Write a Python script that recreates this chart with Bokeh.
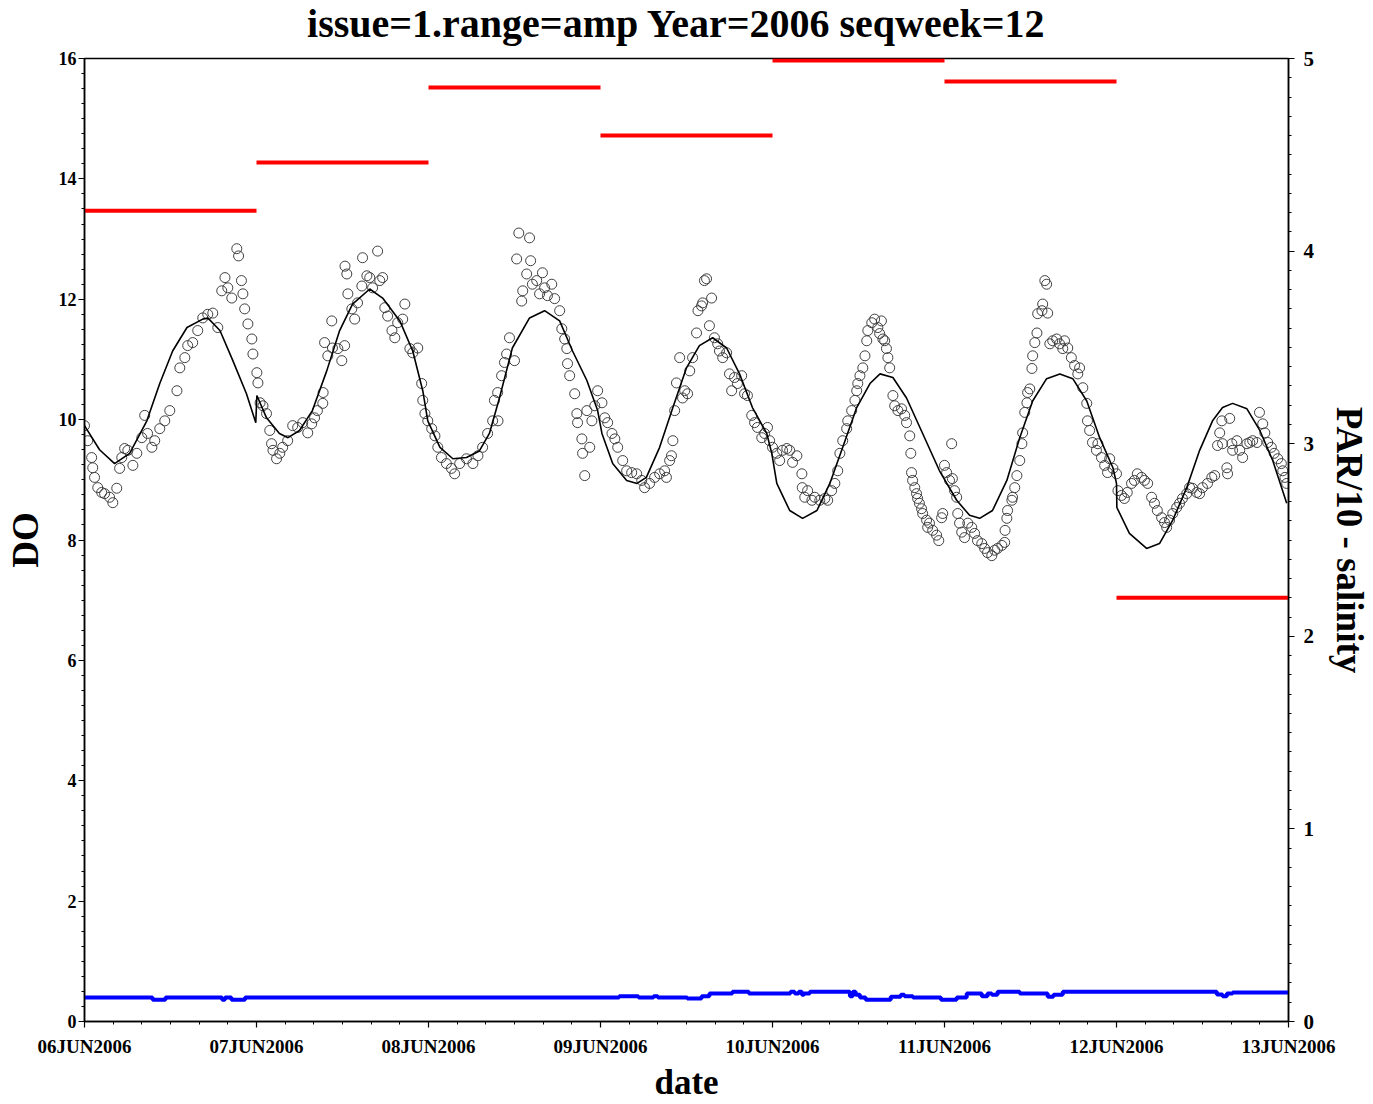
from bokeh.plotting import figure
from bokeh.models import Range1d, LinearAxis, FixedTicker, Title
from bokeh.embed import file_html
from bokeh.resources import INLINE
import numpy as np

FONT = "Liberation Serif"

title_text = "issue=1.range=amp  Year=2006  seqweek=12"

date_labels = ["06JUN2006", "07JUN2006", "08JUN2006", "09JUN2006",
               "10JUN2006", "11JUN2006", "12JUN2006", "13JUN2006"]

# DO observations: hours since 06JUN2006 00:00, DO value
do_hours = [
    0.0, 0.45, 1.0, 1.15, 1.4, 1.85, 2.4, 2.8, 3.5, 3.95, 4.5, 4.9, 5.2, 5.6, 6.05, 6.75, 7.3, 8.0, 8.4, 8.8,
    9.4, 9.8, 10.5, 11.2, 11.9, 12.9, 13.3, 14.0, 14.4, 15.1, 15.8, 16.5, 17.2, 17.9, 18.6, 19.15, 19.6, 20.0,
    20.55, 21.25, 21.5, 21.9, 22.1, 22.35, 22.8, 23.35, 23.5, 24.05, 24.2,
    24.5, 24.9, 25.4, 25.85, 26.1, 26.3, 26.8, 27.25, 27.65, 28.35, 29.05, 29.75, 30.45, 31.15, 31.7, 32.1,
    32.5, 33.25, 33.3, 33.5, 33.95, 34.5, 34.6, 35.35, 35.9, 36.3, 36.35, 36.6, 36.75, 37.3, 37.7, 38.1, 38.7,
    38.8, 39.4, 39.8, 40.2, 40.9, 41.2, 41.6, 41.9, 42.3, 42.9, 43.3, 43.7, 44.4, 44.7, 45.4, 45.8, 46.5,
    47.05, 47.2, 47.5, 47.9,
    48.45, 48.9, 49.3, 49.8, 50.5, 51.2, 51.65, 52.35, 53.3, 54.2, 54.9, 55.55, 56.25, 56.95, 57.2, 57.65,
    57.7, 58.2, 58.6, 58.9, 59.3, 60.0, 60.3, 60.6, 61.0, 61.15, 61.7, 62.1, 62.25, 62.5, 63.1, 63.5, 63.9,
    64.2, 64.6, 65.2, 65.6, 66.3, 66.6, 67.0, 67.3, 67.4, 67.7, 68.4, 68.7, 68.8, 69.4, 69.5, 69.8, 70.1,
    70.5, 70.8, 71.2, 71.6,
    72.2, 72.6, 73.0, 73.6, 74.0, 74.4, 75.1, 75.65, 76.35, 77.05, 77.75, 78.15, 78.85, 79.55, 80.25, 80.95,
    81.2, 81.65, 81.9, 82.1, 82.35, 82.6, 83.05, 83.45, 83.75, 84.15, 84.45, 84.85, 85.4, 85.6, 86.1, 86.25,
    86.5, 86.8, 87.2, 87.5, 87.9, 88.35, 88.6, 89.05, 89.6, 90.0, 90.3, 90.7, 91.1, 91.7, 92.1, 92.5, 93.1,
    93.5, 93.9, 94.5, 94.9, 95.3, 95.6, 96.0,
    96.6, 97.0, 97.4, 98.0, 98.4, 98.8, 99.4, 100.1, 100.15, 100.5, 100.9, 101.5, 101.9, 102.6, 103.3, 103.7,
    104.25, 104.7, 105.1, 105.4, 105.8, 106.35, 106.5, 107.05, 107.5, 107.75, 107.9, 108.2, 108.6, 108.9,
    109.15, 109.3, 109.85, 110.25, 110.7, 110.95, 111.2, 111.4, 111.65, 111.9, 112.1, 112.35, 112.8, 113.05,
    113.5, 114.0, 114.45, 114.7, 115.15, 115.3, 115.4, 115.55, 115.85, 116.1, 116.25, 116.5, 116.8, 116.95,
    117.5, 117.65, 117.9, 118.35, 118.9, 119.2, 119.6, 119.75,
    120.0, 120.3, 120.7, 121.0, 121.1, 121.4, 121.7, 121.85, 122.1, 122.4, 122.8, 123.25, 123.8, 124.2,
    124.6, 125.2, 125.6, 126.0, 126.6, 127.0, 127.4, 128.0, 128.4, 128.45, 128.7, 128.8, 129.4, 129.5, 129.8,
    130.1, 130.5, 130.8, 130.9, 131.2, 131.5, 131.6, 131.9, 132.2, 132.3, 132.6, 132.9, 133.0, 133.6, 133.7,
    134.0, 134.25, 134.4, 134.7, 135.1, 135.65, 136.05, 136.5, 136.75, 137.2, 137.7, 138.15, 138.6, 138.85,
    139.3, 139.85, 139.95, 140.25, 140.65, 141.2, 141.4, 141.9, 142.35, 142.75, 143.05, 143.5, 144.0,
    144.2, 144.7, 145.1, 145.5, 146.1, 146.5, 146.9, 147.5, 147.9, 148.35, 148.9, 149.3, 149.7, 150.3, 150.7,
    151.0, 151.4, 151.85, 152.4, 152.8, 153.2, 153.8, 154.2, 154.6, 155.2, 155.6, 156.0, 156.7, 157.3, 157.7,
    158.1, 158.4, 158.7, 158.8, 159.4, 159.5, 159.8, 160.1, 160.2, 160.8, 161.2, 161.6, 162.2, 162.6, 163.0,
    163.6, 163.95, 164.4, 164.7, 165.1, 165.6, 166.0, 166.5, 167.0, 167.2, 167.5, 167.75,
]
do_values = [
    9.90, 9.65, 9.37, 9.20, 9.04, 8.87, 8.79, 8.77, 8.71, 8.62, 8.86, 9.19, 9.37, 9.52, 9.49, 9.24, 9.44, 9.70, 10.07, 9.77,
    9.54, 9.65, 9.85, 9.98, 10.15, 10.48, 10.86, 11.03, 11.23, 11.28, 11.48, 11.69, 11.75, 11.77, 11.53, 12.14, 12.36, 12.19,
    12.02, 12.84, 12.72, 12.31, 12.09, 11.84, 11.59, 11.34, 11.09, 10.78, 10.61,
    10.28, 10.23, 10.10, 9.82, 9.60, 9.49, 9.35, 9.44, 9.54, 9.65, 9.90, 9.87, 9.95, 9.78, 9.93, 10.03,
    10.15, 10.27, 10.45, 11.28, 11.06, 11.64, 11.19, 11.18, 10.98, 11.23, 12.55, 12.42, 12.09, 11.84, 11.67, 11.94, 12.22,
    12.69, 12.39, 12.36, 12.19, 12.80, 12.31, 12.36, 11.86, 11.72, 11.48, 11.36, 11.61, 11.67, 11.92, 11.18, 11.11, 11.19,
    10.60, 10.32, 10.10, 9.98,
    9.85, 9.73, 9.54, 9.37, 9.27, 9.19, 9.10, 9.27, 9.35, 9.27, 9.40, 9.54, 9.77, 9.98, 10.32, 10.45,
    9.98, 10.73, 10.95, 11.09, 11.36, 10.98, 12.67, 13.10, 11.97, 12.14, 12.42, 13.02, 12.64, 12.25, 12.31, 12.09, 12.44,
    12.19, 12.06, 12.25, 12.01, 11.81, 11.51, 11.34, 11.18, 10.93, 10.73, 10.43, 10.10, 9.95, 9.68, 9.44, 9.07, 10.15,
    9.54, 9.98, 10.23, 10.48,
    10.28, 10.03, 9.95, 9.77, 9.68, 9.54, 9.32, 9.15, 9.12, 9.10, 8.99, 8.87, 8.94, 9.04, 9.10, 9.15,
    9.04, 9.32, 9.40, 9.65, 10.15, 10.61, 11.03, 10.36, 10.48, 10.43, 10.81, 11.03, 11.44, 11.81, 11.89, 11.94,
    12.31, 12.34, 11.56, 12.02, 11.36, 11.26, 11.14, 11.03, 11.11, 10.76, 10.48, 10.70, 10.60, 10.73, 10.43, 10.40, 10.07,
    9.95, 9.87, 9.70, 9.77, 9.87, 9.65, 9.54,
    9.44, 9.32, 9.49, 9.52, 9.49, 9.29, 9.40, 9.10, 8.87, 8.71, 8.82, 8.66, 8.71, 8.66, 8.69, 8.66,
    8.82, 8.94, 9.15, 9.44, 9.65, 9.85, 9.98, 10.15, 10.32, 10.48, 10.60, 10.73, 10.86, 11.06,
    11.31, 11.48, 11.61, 11.67, 11.53, 11.43, 11.64, 11.34, 11.31, 11.18, 11.03, 10.86, 10.40, 10.23,
    10.15, 10.18, 10.07, 9.95, 9.73, 9.44, 9.12, 8.99, 8.87, 8.77, 8.69, 8.61, 8.52, 8.44,
    8.33, 8.21, 8.28, 8.16, 8.08, 7.99, 8.37, 8.44,
    9.24, 9.12, 8.99, 9.60, 9.02, 8.82, 8.71, 8.44, 8.28, 8.13, 8.04, 8.28, 8.21, 8.11,
    7.99, 7.94, 7.86, 7.79, 7.74, 7.83, 7.86, 7.91, 7.96, 8.16, 8.36, 8.49, 8.66, 8.71, 8.87,
    9.07, 9.32, 9.60, 9.78, 10.12, 10.28, 10.45, 10.51, 10.85, 11.06, 11.28, 11.44, 11.76, 11.81, 11.92,
    12.31, 12.25, 11.77, 11.26, 11.31, 11.34, 11.26, 11.18, 11.31, 11.19, 11.03, 10.90, 10.76, 10.86,
    10.53, 10.27, 9.98, 9.82, 9.62, 9.49, 9.60, 9.37, 9.24, 9.12, 9.35, 9.19, 9.10,
    8.82, 8.74, 8.69, 8.79, 8.94, 8.99, 9.10, 9.04, 8.99, 8.94, 8.71, 8.61, 8.49, 8.37, 8.29,
    8.21, 8.33, 8.44, 8.54, 8.61, 8.69, 8.77, 8.87, 8.86, 8.79, 8.77, 8.87, 8.94, 9.04, 9.07,
    9.57, 9.78, 9.98, 9.60, 9.20, 9.10, 10.02, 9.60, 9.49, 9.65, 9.49, 9.37, 9.60, 9.62, 9.65,
    9.62, 10.12, 9.93, 9.78, 9.62, 9.54, 9.44, 9.35, 9.27, 9.15, 9.04, 8.94,
]

# Fitted DO curve (one fit per day)
fit_hours = [
    0.0, 2.1, 4.2, 6.3, 8.7, 10.5, 12.3, 14.3, 16.5, 17.2, 18.9, 20.7, 22.6, 23.9,
    24.05, 25.4, 27.2, 28.4, 30.0, 31.8, 33.8, 35.6, 37.4, 39.8, 41.6, 44.0, 45.8, 47.2, 47.9,
    49.6, 51.4, 53.3, 55.1, 56.5, 57.9, 59.7, 62.1, 64.2, 66.3, 68.1, 70.1, 71.6,
    72.2, 73.7, 75.65, 77.1, 78.4, 80.25, 82.1, 84.0, 85.8, 87.65, 89.6, 91.4, 93.2, 95.2, 95.9,
    96.6, 98.4, 100.2, 102.2, 104.0, 105.8, 107.75, 109.6, 111.0, 112.8, 114.7, 116.95, 119.3,
    121.7, 123.5, 124.9, 126.7, 128.7, 130.5, 132.3, 134.25, 136.1, 137.9, 139.85, 141.65, 143.5, 144.0,
    144.05, 145.8, 148.2, 150.0, 151.85, 153.8, 155.6, 157.4, 158.8, 160.2, 162.2, 164.0, 165.8, 167.75,
]
fit_values = [
    9.90, 9.50, 9.27, 9.44, 9.98, 10.60, 11.14, 11.53, 11.67, 11.69, 11.48, 10.98, 10.43, 9.95,
    10.40, 10.03, 9.77, 9.70, 9.82, 10.15, 10.81, 11.48, 11.92, 12.17, 12.02, 11.64, 11.14, 10.48, 9.98,
    9.54, 9.35, 9.37, 9.48, 9.77, 10.36, 11.19, 11.69, 11.81, 11.64, 11.14, 10.65, 10.15,
    9.77, 9.27, 8.99, 8.94, 9.04, 9.54, 10.20, 10.86, 11.23, 11.36, 11.19, 10.76, 10.20, 9.77, 9.44,
    8.94, 8.49, 8.36, 8.49, 8.94, 9.54, 10.20, 10.60, 10.76, 10.70, 10.36, 9.77, 9.15,
    8.66, 8.41, 8.36, 8.49, 8.99, 9.70, 10.31, 10.68, 10.76, 10.68, 10.31, 9.70, 9.20, 8.94,
    8.54, 8.11, 7.86, 7.94, 8.33, 8.87, 9.49, 9.98, 10.20, 10.27, 10.18, 9.82, 9.32, 8.61,
]

# Salinity (right axis), stepwise: start hour of each level, level
sal_hours = [0.0, 9.5, 11.3, 19.2, 19.6, 20.5, 22.4, 74.6, 77.3, 79.4, 80.0, 84.1, 86.1, 87.2, 90.4,
             92.7, 98.5, 99.1, 99.65, 100.1, 100.4, 101.2, 106.8, 107.2, 107.6, 108.2, 109.0, 112.5,
             113.9, 114.4, 115.6, 119.5, 121.7, 123.1, 125.2, 126.0, 126.6, 127.4, 130.5, 134.4, 135.2,
             136.5, 158.0, 158.8, 159.4, 160.2, 168.0]
sal_values = [0.124, 0.113, 0.124, 0.113, 0.124, 0.113, 0.124, 0.131, 0.124, 0.131, 0.124, 0.120, 0.131,
              0.146, 0.154, 0.146, 0.154, 0.146, 0.154, 0.139, 0.146, 0.154, 0.131, 0.154, 0.139, 0.124,
              0.113, 0.128, 0.139, 0.131, 0.124, 0.113, 0.124, 0.146, 0.131, 0.146, 0.139, 0.154, 0.146,
              0.128, 0.139, 0.154, 0.140, 0.131, 0.146, 0.151, 0.151]

# Daily PAR/10 (right axis)
par_values = [4.21, 4.46, 4.85, 4.60, 4.99, 4.88, 2.20]

day_hours = [24 * i for i in range(len(date_labels))]
par_x0 = day_hours[:-1]
par_x1 = day_hours[1:]

p = figure(width=1373, height=1104, x_range=Range1d(0, 168), y_range=Range1d(0, 16),
           output_backend="svg", toolbar_location=None,
           min_border_left=84, min_border_right=84, min_border_top=57, min_border_bottom=82)
p.extra_y_ranges = {"r": Range1d(0, 5)}
p.title = None

# spacer next to the frame, then the real title further out
spacer = Title(text=" ", text_font_size="1px", standoff=8)
p.add_layout(spacer, "above")
main_title = Title(text=title_text, align="center", vertical_align="top", standoff=0,
                   text_font=FONT, text_font_style="bold", text_font_size="40px",
                   text_color="black")
p.add_layout(main_title, "above")

p.xgrid.visible = False
p.ygrid.visible = False
p.outline_line_color = "black"
p.outline_line_width = 1.5
p.background_fill_color = "white"
p.border_fill_color = "white"

# glyphs
p.segment(x0=par_x0, x1=par_x1, y0=par_values, y1=par_values, y_range_name="r",
          line_color="#ff0000", line_width=4)
p.step(x=sal_hours, y=sal_values, mode="after", y_range_name="r",
       line_color="#0000ff", line_width=4)
p.scatter(x=do_hours, y=do_values, marker="circle", size=10, fill_color=None,
          line_color="#404040", line_width=1)
p.line(x=fit_hours, y=fit_values, line_color="black", line_width=1.6)

# axes
xa = p.xaxis[0]
xa.ticker = FixedTicker(ticks=day_hours, minor_ticks=list(range(0, 169, 4)))
xa.major_label_overrides = {h: lab for h, lab in zip(day_hours, date_labels)}
xa.axis_label = "date"

ya = p.yaxis[0]
ya.ticker = FixedTicker(ticks=list(range(0, 17, 2)), minor_ticks=np.arange(0, 16.001, 0.25).tolist())
ya.axis_label = "DO"

ra = LinearAxis(y_range_name="r",
                ticker=FixedTicker(ticks=[0, 1, 2, 3, 4, 5], minor_ticks=np.arange(0, 5.001, 0.1).tolist()))
ra.axis_label = "PAR/10 - salinity"
p.add_layout(ra, "right")

for ax in (xa, ya, ra):
    ax.axis_line_color = "black"
    ax.axis_line_width = 1.5
    ax.major_tick_in = 0
    ax.major_tick_out = 6
    ax.minor_tick_in = 0
    ax.minor_tick_out = 3
    ax.major_tick_line_width = 1.2
    ax.minor_tick_line_width = 1
    ax.major_label_text_font = FONT
    ax.major_label_text_font_style = "bold"
    ax.major_label_text_color = "black"
    ax.axis_label_text_font = FONT
    ax.axis_label_text_font_style = "bold"
    ax.axis_label_text_color = "black"

xa.major_label_text_font_size = "19px"
xa.major_label_standoff = 8
xa.axis_label_text_font_size = "35px"
xa.axis_label_standoff = 3

ya.major_label_text_font_size = "18px"
ya.major_label_standoff = 2
ya.axis_label_text_font_size = "37px"
ya.axis_label_standoff = 10

ra.major_label_text_font_size = "21px"
ra.major_label_standoff = 9
ra.axis_label_text_font_size = "37px"
ra.axis_label_standoff = 12

open("out.html", "w").write(file_html(p, INLINE))
